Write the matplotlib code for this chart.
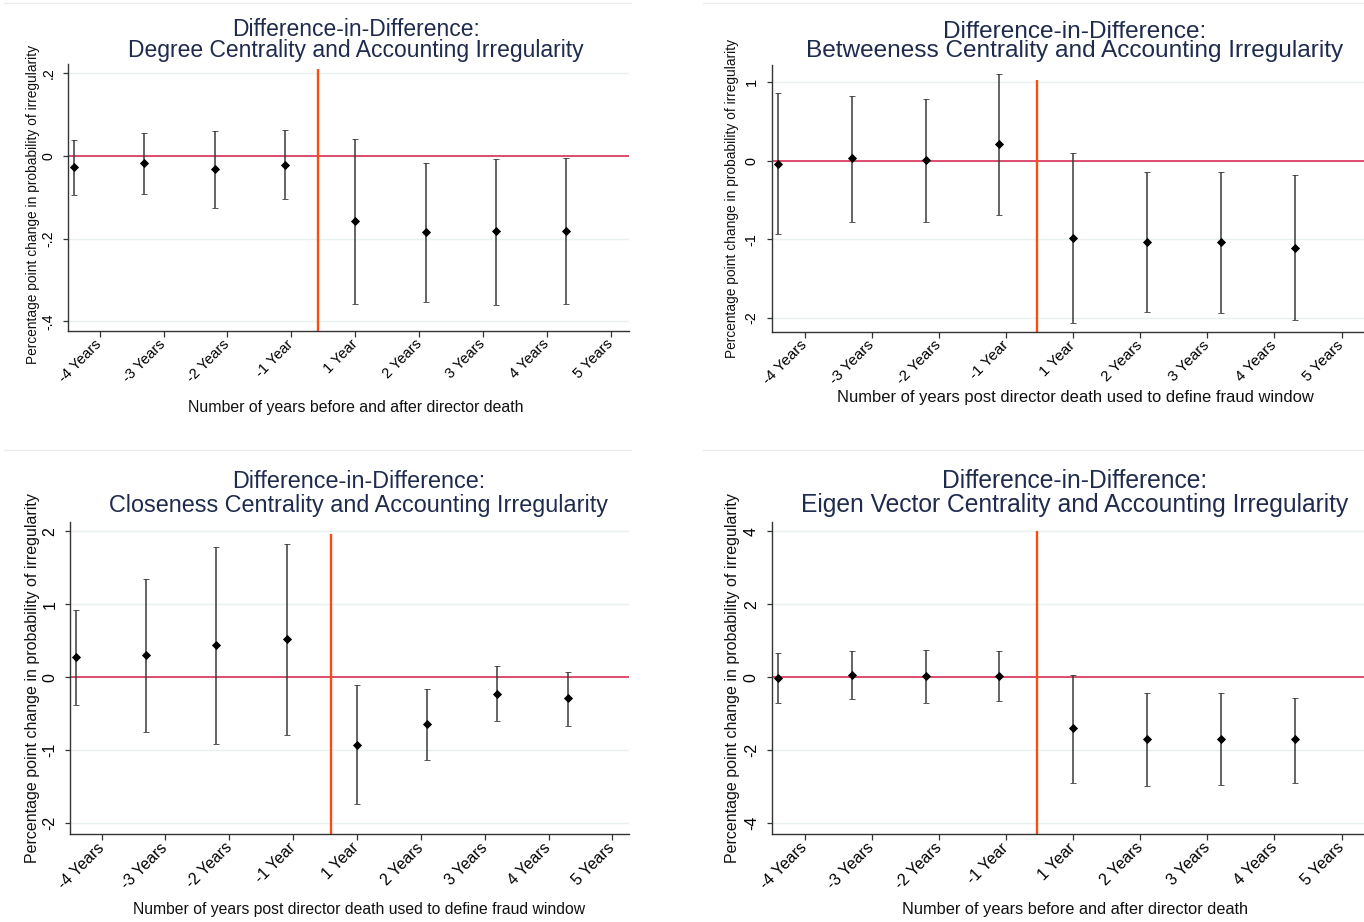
import numpy as np
import matplotlib
matplotlib.use("Agg")
import matplotlib.pyplot as plt
from matplotlib.lines import Line2D

# ---------------------------------------------------------------- data
periods = np.arange(1, 9)
tick_labels = ["-4 Years", "-3 Years", "-2 Years", "-1 Year", "1 Year",
               "2 Years", "3 Years", "4 Years", "5 Years"]

degree_coef = [-0.026, -0.017, -0.031, -0.021, -0.158, -0.185, -0.182, -0.181]
degree_lo = [-0.095, -0.093, -0.125, -0.105, -0.357, -0.354, -0.361, -0.357]
degree_hi = [0.039, 0.055, 0.060, 0.062, 0.041, -0.016, -0.008, -0.006]

between_coef = [-0.038, 0.038, 0.013, 0.207, -0.987, -1.038, -1.038, -1.110]
between_lo = [-0.933, -0.775, -0.775, -0.691, -2.060, -1.919, -1.930, -2.025]
between_hi = [0.859, 0.826, 0.788, 1.100, 0.093, -0.149, -0.149, -0.183]

close_coef = [0.278, 0.311, 0.448, 0.525, -0.927, -0.634, -0.223, -0.283]
close_lo = [-0.384, -0.744, -0.913, -0.795, -1.740, -1.140, -0.593, -0.671]
close_hi = [0.927, 1.352, 1.777, 1.826, -0.105, -0.155, 0.151, 0.073]

eigen_coef = [-0.020, 0.074, 0.036, 0.036, -1.393, -1.686, -1.686, -1.686]
eigen_lo = [-0.702, -0.582, -0.702, -0.647, -2.888, -2.978, -2.942, -2.888]
eigen_hi = [0.664, 0.719, 0.746, 0.719, 0.064, -0.429, -0.429, -0.555]

YLAB = "Percentage point change in probability of irregularity"
XLAB_EVENT = "Number of years before and after director death"
XLAB_WINDOW = "Number of years post director death used to define fraud window"
TITLE_TOP = "Difference-in-Difference:"

# ---------------------------------------------------------------- style
plt.rcParams["font.family"] = ["Liberation Sans", "DejaVu Sans"]
W, H = 1364, 922
fig = plt.figure(figsize=(W / 100, H / 100), dpi=100)
fig.patch.set_facecolor("white")

TITLE_C = "#1e2b4d"
AXIS_C = "#333333"
GRID_C = "#e9f0f1"
ZERO_C = "#d81e48"
EVENT_C = "#ff4a12"
BAR_C = "#3a3a3a"

tick_pos = 15 / 11 + np.arange(9) * 10 / 11


def fx(x):
    return x / W


def fy(y):
    return 1 - y / H


panels = [
    dict(box=(68.3, 64.0, 629.0, 330.7), coef=degree_coef, lo=degree_lo, hi=degree_hi,
         xlim=(0.919, 8.891), ylim=(-0.4228, 0.2225),
         yticks=[-0.4, -0.2, 0.0, 0.2], ylabels=["-.4", "-.2", "0", ".2"],
         vx=4.474, vtop=0.21,
         title2="Degree Centrality and Accounting Irregularity", tsize=16.5,
         tx=356, ty=57.3, tspace=0.905,
         xlab=XLAB_EVENT, xsize=11.4, xlx=355.5, xly=412,
         ylx=33, yly=204, ysize=9.9, ticksize=10.5, ytsize=10.2),
    dict(box=(771.7, 64.7, 1364.0, 331.7), coef=between_coef, lo=between_lo, hi=between_hi,
         xlim=(0.915, 8.94), ylim=(-2.174, 1.22),
         yticks=[-2, -1, 0, 1], ylabels=["-2", "-1", "0", "1"],
         vx=4.509, vtop=1.02,
         title2="Betweeness Centrality and Accounting Irregularity", tsize=17.6,
         tx=1075, ty=57.3, tspace=0.85,
         xlab=XLAB_WINDOW, xsize=11.9, xlx=1075, xly=402,
         ylx=732, yly=198, ysize=9.9, ticksize=11.0, ytsize=10.4),
    dict(box=(70.3, 521.7, 629.0, 834.0), coef=close_coef, lo=close_lo, hi=close_hi,
         xlim=(0.919, 8.873), ylim=(-2.147, 2.13),
         yticks=[-2, -1, 0, 1, 2], ylabels=["-2", "-1", "0", "1", "2"],
         vx=4.635, vtop=1.965,
         title2="Closeness Centrality and Accounting Irregularity", tsize=16.8,
         tx=358.5, ty=511.7, tspace=1.04,
         xlab=XLAB_WINDOW, xsize=11.3, xlx=359, xly=914,
         ylx=33, yly=677.7, ysize=11.5, ticksize=11.3, ytsize=11.4),
    dict(box=(771.7, 521.7, 1364.0, 834.0), coef=eigen_coef, lo=eigen_lo, hi=eigen_hi,
         xlim=(0.915, 8.94), ylim=(-4.293, 4.263),
         yticks=[-4, -2, 0, 2, 4], ylabels=["-4", "-2", "0", "2", "4"],
         vx=4.513, vtop=4.0,
         title2="Eigen Vector Centrality and Accounting Irregularity", tsize=17.7,
         tx=1075, ty=511.7, tspace=0.99,
         xlab=XLAB_EVENT, xsize=11.8, xlx=1075.5, xly=914,
         ylx=732, yly=677.7, ysize=11.5, ticksize=11.5, ytsize=11.4),
]

for p in panels:
    l, t, r, b = p["box"]
    ax = fig.add_axes([fx(l), fy(b), fx(r - l), (b - t) / H])
    ax.set_xlim(*p["xlim"])
    ax.set_ylim(*p["ylim"])

    # horizontal grid
    for yv in p["yticks"]:
        ax.axhline(yv, color=GRID_C, lw=1.0, zorder=0.5)

    # zero reference and event line
    ax.axhline(0, color=ZERO_C, lw=1.1, zorder=1)
    ax.vlines(p["vx"], p["ylim"][0], p["vtop"], color=EVENT_C, lw=1.7, zorder=2)

    coef = np.array(p["coef"])
    lo = np.array(p["lo"])
    hi = np.array(p["hi"])
    ax.errorbar(periods, coef, yerr=[coef - lo, hi - coef], fmt="D", ms=4.0,
                mfc="black", mec="black", mew=0.6, ecolor=BAR_C, elinewidth=1.1,
                capsize=2.5, capthick=1.1, zorder=3)

    for side in ("top", "right"):
        ax.spines[side].set_visible(False)
    for side in ("left", "bottom"):
        ax.spines[side].set_color(AXIS_C)
        ax.spines[side].set_linewidth(1.0)

    ax.set_yticks(p["yticks"])
    ax.set_yticklabels(p["ylabels"], rotation=90, va="center")
    ax.tick_params(axis="y", length=3.8, width=0.9, color=AXIS_C, pad=5.5,
                   labelsize=p["ytsize"])

    ax.set_xticks(tick_pos)
    ax.set_xticklabels(tick_labels, rotation=45, ha="right", va="center",
                       rotation_mode="anchor")
    ax.tick_params(axis="x", length=4.2, width=0.9, color=AXIS_C, pad=4,
                   labelsize=p["ticksize"])

    # two-line title (anchored on the baseline of its last line), then axis titles
    fig.text(fx(p["tx"]), fy(p["ty"]), TITLE_TOP + "\n" + p["title2"],
             ha="center", va="baseline", multialignment="center",
             linespacing=p["tspace"], fontsize=p["tsize"], color=TITLE_C)
    fig.text(fx(p["xlx"]), fy(p["xly"]), p["xlab"], ha="center", va="baseline",
             fontsize=p["xsize"], color="#111111")
    fig.text(fx(p["ylx"]), fy(p["yly"]), YLAB, ha="center", va="center",
             rotation=90, fontsize=p["ysize"], color="#111111")

# faint frame rules around the upper graphs
for x0, x1 in ((4, 631), (703, 1364)):
    for yv in (3.3, 450):
        fig.add_artist(Line2D([fx(x0), fx(x1)], [fy(yv), fy(yv)],
                              color="#ececec", lw=0.9))

fig.savefig("out.png", dpi=100, facecolor="white")
